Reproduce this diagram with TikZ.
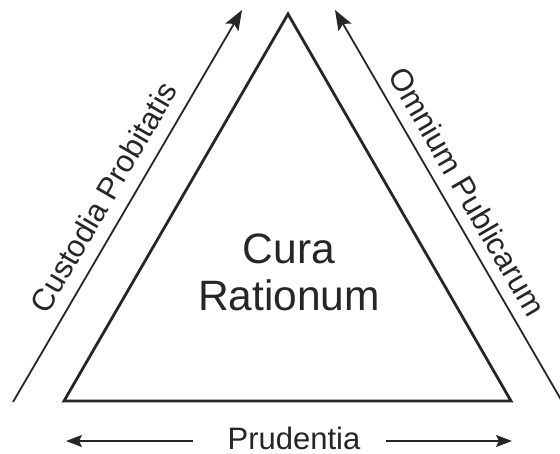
\documentclass[tikz,border=0pt]{standalone}
\usepackage{fontspec}
\setmainfont{Liberation Sans}
\usetikzlibrary{arrows.meta}
\definecolor{inkgray}{RGB}{38,38,38}

\begin{document}
\begin{tikzpicture}[x=1pt, y=-1pt,
    side/.style={draw=inkgray, line width=2.8pt, line join=miter},
    flow/.style={draw=inkgray, line width=1.8pt, -{Stealth[length=20pt, width=15pt, inset=4pt]}},
    flat/.style={draw=inkgray, line width=1.8pt, -{Stealth[length=16pt, width=12pt, inset=3pt]}},
    sidetext/.style={font=\fontsize{31}{37}\selectfont, text=inkgray, inner sep=0pt},
    centretext/.style={font=\fontsize{42.5}{47}\selectfont, text=inkgray, align=center, inner sep=0pt}
]
    \useasboundingbox (0,0) rectangle (560,453);

    % triangle
    \coordinate (apex) at (288,14);
    \coordinate (left) at (64,401);
    \coordinate (right) at (511,401);
    \draw[side] (apex) -- (left) -- (right) -- cycle;
    \node[centretext] (cura) at (289,272) {Cura\\Rationum};

    % outer arrows
    \coordinate (cp-tail) at (13,402);
    \coordinate (cp-tip) at (242,10);
    \coordinate (op-tail) at (567,410);
    \coordinate (op-tip) at (335,10);
    \draw[flow] (cp-tail) -- node[sidetext, pos=0.49, sloped, above=13pt] (cp) {Custodia Probitatis} (cp-tip);
    \draw[flow] (op-tail) -- node[sidetext, pos=0.517, sloped, above=11pt] (op) {Omnium Publicarum} (op-tip);

    % bottom
    \node[sidetext] (pru) at (294,438) {Prudentia};
    \coordinate (pl-tail) at (193,441);
    \coordinate (pl-tip) at (66,441);
    \coordinate (pr-tail) at (386,441);
    \coordinate (pr-tip) at (512,441);
    \draw[flat] (pl-tail) -- (pl-tip);
    \draw[flat] (pr-tail) -- (pr-tip);
\end{tikzpicture}
\end{document}
